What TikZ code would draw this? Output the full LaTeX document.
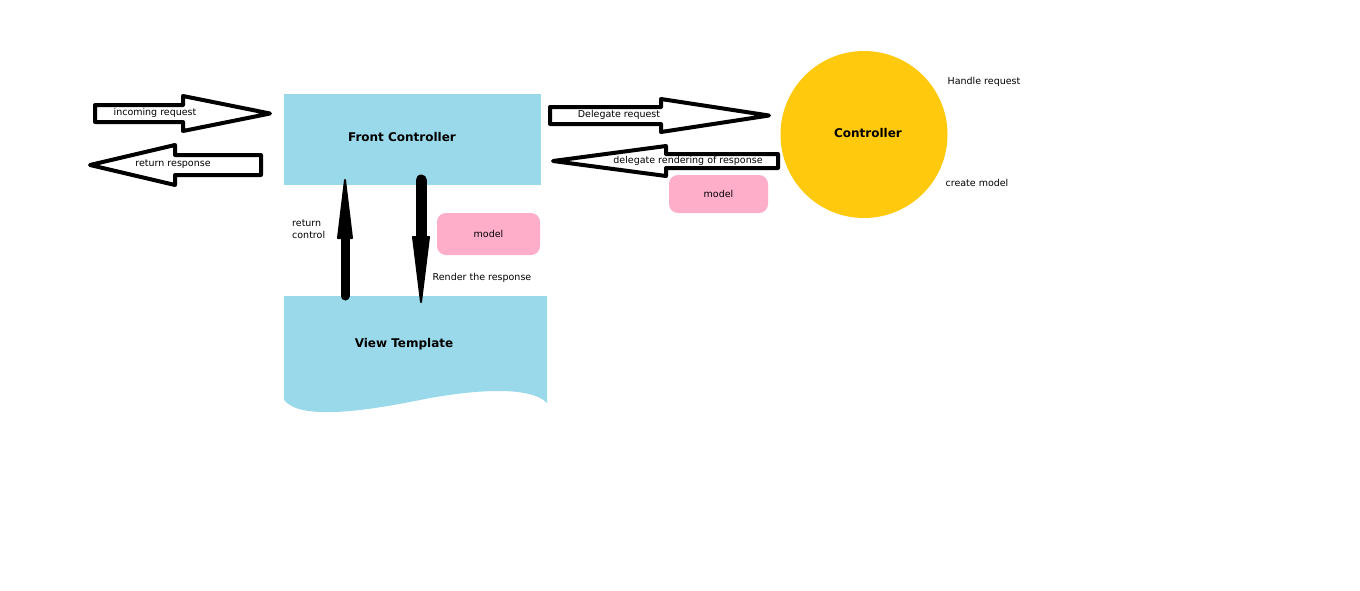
\documentclass[tikz,border=0pt]{standalone}
\usepackage{fontspec}
\setmainfont{DejaVu Sans}
\usepackage{tikz}
\definecolor{paintblue}{RGB}{153,217,234}
\definecolor{paintgold}{RGB}{255,201,14}
\definecolor{paintpink}{RGB}{255,174,201}
\tikzset{
  hollowarrow/.style={draw=black, fill=white, line width=4pt, line join=round},
  smalltext/.style={font=\fontsize{9.5}{11.5}\selectfont, inner sep=0pt},
  bigtext/.style={font=\fontsize{12}{14}\selectfont\bfseries, inner sep=0pt},
  modelbox/.style={fill=paintpink, rounded corners=9pt, smalltext},
  shaft/.style={line width=#1, line cap=round},
  arrowhead/.style={fill=black, draw=black, line width=2pt, line join=round},
}
\begin{document}
\begin{tikzpicture}[x=1pt, y=-1pt]
\useasboundingbox (0,0) rectangle (1360,590);
% boxes
\node[fill=paintblue, minimum width=257pt, minimum height=91pt, bigtext] (fc) at (412.5,139.5) {};
\node[bigtext] (fctext) at (402,137) {Front Controller};
\fill[paintblue] (284,296) -- (547,296) -- (547,403) .. controls (530,385) and (470,390) .. (420,400) .. controls (360,412) and (300,420) .. (284,400) -- cycle;
\node[bigtext] (vt) at (404,344) {View Template};
\node[circle, fill=paintgold, minimum size=167pt, inner sep=0pt] (ctrl) at (864,134.5) {};
\node[bigtext] (ctrltext) at (868,133) {Controller};
\node[modelbox, minimum width=103pt, minimum height=42pt] (model1) at (488.5,234) {model};
\node[modelbox, minimum width=99pt, minimum height=38pt] (model2) at (718.5,194) {model};

% block arrows
\draw[hollowarrow] (95,105) -- (183,105) -- (183,96) -- (270,113.5) -- (183,131) -- (183,122) -- (95,122) -- cycle;
\draw[hollowarrow] (261,155) -- (175,155) -- (175,145) -- (90,165) -- (175,185) -- (175,175) -- (261,175) -- cycle;
\draw[hollowarrow] (550,107) -- (661,107) -- (661,99) -- (769,115.5) -- (661,132) -- (661,124) -- (550,124) -- cycle;
\draw[hollowarrow] (778,154) -- (666,154) -- (666,146) -- (553,161) -- (666,176) -- (666,168) -- (778,168) -- cycle;
\node[smalltext] (inreq) at (155,113) {incoming request};
\node[smalltext] (retresp) at (173,164) {return response};
\node[smalltext] (delreq) at (619,115) {Delegate request};
\node[smalltext] (delrend) at (688,161) {delegate rendering of response};

% vertical arrows
\draw[shaft=9pt] (345,296) -- (345,230);
\draw[arrowhead] (338,238) -- (345,180) -- (352,238) -- cycle;
\draw[shaft=11pt] (421,180) -- (421,245);
\draw[arrowhead] (413,237) -- (421,302) -- (429,237) -- cycle;
\node[smalltext, align=left, anchor=west] (retctrl) at (292,229) {return\\control};
\node[smalltext] (render) at (482,278) {Render the response};

% notes
\node[smalltext] (handle) at (984,82) {Handle request};
\node[smalltext] (create) at (977,183) {create model};


\end{tikzpicture}
\end{document}
